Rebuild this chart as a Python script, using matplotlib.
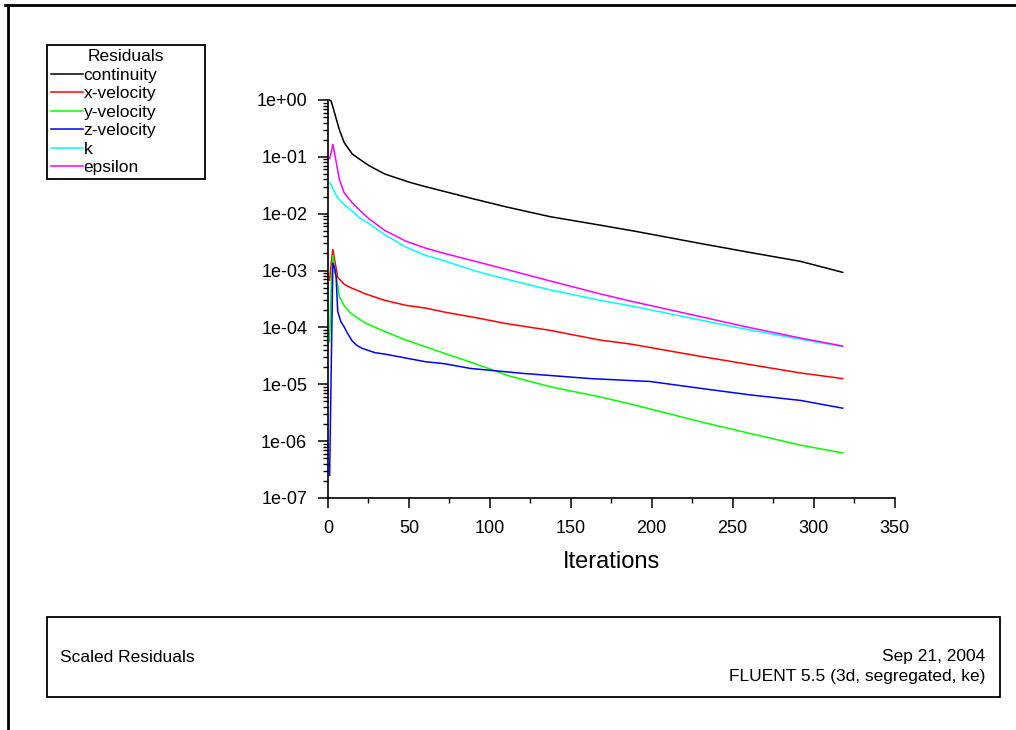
import numpy as np
import matplotlib
matplotlib.use("Agg")
import matplotlib.pyplot as plt
from matplotlib.lines import Line2D
from matplotlib.patches import Rectangle
from matplotlib.ticker import (FixedLocator, LogLocator, MultipleLocator,
                               FuncFormatter, NullFormatter)

plt.rcParams['font.family'] = ['Liberation Sans', 'DejaVu Sans']

# scaled residuals, sampled along each curve (iteration, residual)
it_continuity = [1, 2, 4, 7, 10, 15, 20, 25, 35, 50, 60, 75, 90, 110, 137,
                 168, 190, 230, 260, 292, 318]
res_continuity = [1.0, 0.95, 0.60, 0.30, 0.178, 0.112, 0.089, 0.071, 0.050,
                  0.036, 0.030, 0.0234, 0.0182, 0.0132, 8.9e-3, 6.3e-3,
                  4.9e-3, 3.0e-3, 2.1e-3, 1.45e-3, 9.3e-4]

it_xvel = [1, 2, 3, 4, 5, 6, 8, 10, 14, 18, 23, 35, 48, 60, 72, 90, 110,
           137, 168, 187, 230, 260, 292, 318]
res_xvel = [6.8e-4, 1.35e-3, 2.35e-3, 1.6e-3, 1.12e-3, 7.6e-4, 6.6e-4,
            5.75e-4, 5.0e-4, 4.5e-4, 3.9e-4, 3.0e-4, 2.45e-4, 2.2e-4,
            1.86e-4, 1.51e-4, 1.17e-4, 8.9e-5, 6.0e-5, 5.1e-5, 3.1e-5,
            2.24e-5, 1.58e-5, 1.26e-5]

it_yvel = [1, 2, 3, 4, 5, 6, 7, 10, 14, 17, 23, 35, 48, 60, 72, 90, 112,
           137, 168, 187, 230, 260, 292, 318]
res_yvel = [5.6e-5, 5.0e-4, 1.86e-3, 1.12e-3, 7.9e-4, 5.6e-4, 3.5e-4,
            2.4e-4, 1.78e-4, 1.55e-4, 1.2e-4, 8.5e-5, 6.0e-5, 4.6e-5,
            3.5e-5, 2.35e-5, 1.4e-5, 9.1e-6, 6.0e-6, 4.5e-6, 2.2e-6,
            1.38e-6, 8.5e-7, 6.2e-7]

it_zvel = [1, 2, 3, 4, 5, 6, 8, 10, 12, 15, 18, 21, 29, 35, 48, 60, 72, 88,
           121, 162, 199, 230, 261, 292, 318]
res_zvel = [2.5e-7, 2.0e-5, 1.35e-3, 1.12e-3, 7.8e-4, 1.9e-4, 1.26e-4,
            1.02e-4, 7.9e-5, 5.75e-5, 4.8e-5, 4.3e-5, 3.6e-5, 3.4e-5,
            2.9e-5, 2.5e-5, 2.3e-5, 1.9e-5, 1.55e-5, 1.26e-5, 1.12e-5,
            8.5e-6, 6.5e-6, 5.2e-6, 3.8e-6]

it_k = [1, 2, 4, 6, 10, 15, 20, 25, 35, 48, 60, 72, 90, 110, 137, 168, 187,
        230, 260, 292, 318]
res_k = [3.5e-2, 3.2e-2, 2.4e-2, 1.9e-2, 1.45e-2, 1.1e-2, 8.3e-3, 6.8e-3,
         4.3e-3, 2.6e-3, 1.86e-3, 1.48e-3, 1.0e-3, 7.1e-4, 4.6e-4, 3.0e-4,
         2.4e-4, 1.35e-4, 9.1e-5, 6.2e-5, 4.6e-5]

it_eps = [1, 2, 3, 5, 7, 10, 15, 20, 25, 35, 48, 60, 72, 90, 110, 137, 168,
          187, 230, 260, 292, 318]
res_eps = [9.3e-2, 0.12, 0.166, 0.083, 0.040, 0.0234, 0.0155, 0.0112,
           8.3e-3, 5.1e-3, 3.3e-3, 2.5e-3, 2.0e-3, 1.48e-3, 1.05e-3,
           6.6e-4, 3.9e-4, 2.9e-4, 1.55e-4, 1.0e-4, 6.5e-5, 4.7e-5]

names = ["continuity", "x-velocity", "y-velocity", "z-velocity", "k", "epsilon"]
colors = ["#000000", "#ff0000", "#00ff00", "#0000ff", "#00ffff", "#ff00ff"]
iters = [it_continuity, it_xvel, it_yvel, it_zvel, it_k, it_eps]
resids = [res_continuity, res_xvel, res_yvel, res_zvel, res_k, res_eps]

W, H = 1016, 730
fig = plt.figure(figsize=(W / 100, H / 100), dpi=100)
ax = fig.add_axes([328 / W, 1 - 498 / H, 566.5 / W, 398 / H])

for name, it, res, c in zip(names, iters, resids, colors):
    ax.plot(it, res, color=c, lw=1.1, label=name, clip_on=False)

ax.set_yscale('log')
ax.set_ylim(1e-7, 1)
ax.set_xlim(0, 350)
ax.xaxis.set_major_locator(MultipleLocator(50))
ax.xaxis.set_minor_locator(MultipleLocator(25))
ax.yaxis.set_major_locator(FixedLocator(10.0 ** np.arange(-7, 1)))
ax.yaxis.set_major_formatter(FuncFormatter(lambda v, p: f"{v:.0e}"))
ax.yaxis.set_minor_locator(LogLocator(base=10, subs=np.arange(2, 10)))
ax.yaxis.set_minor_formatter(NullFormatter())

for s in ('top', 'right'):
    ax.spines[s].set_visible(False)
for s in ('left', 'bottom'):
    ax.spines[s].set_linewidth(1.2)
ax.tick_params(which='major', length=7, width=1.1, labelsize=13)
ax.tick_params(which='minor', length=3.5, width=1.0)
ax.tick_params(axis='y', which='major', pad=8)
ax.tick_params(axis='x', which='major', pad=9)
ax.set_xlabel('Iterations', fontsize=17, labelpad=10)

leg = ax.legend(loc='upper left', bbox_to_anchor=(47 / W, 1 - 176 / H, 158 / W, 131 / H),
                bbox_transform=fig.transFigure, mode='expand', borderaxespad=0,
                title='Residuals', fontsize=12.5, title_fontsize=12.5,
                fancybox=False, framealpha=1, edgecolor='black',
                borderpad=0.25, labelspacing=0.19, handlelength=1.85,
                handletextpad=0.0)
leg.get_frame().set_linewidth(1.3)

# caption box under the plot
fig.add_artist(Rectangle((47 / W, 1 - 697 / H), 953 / W, 80 / H,
                         transform=fig.transFigure, fill=False,
                         edgecolor='black', lw=1.3))
fig.text(60 / W, 1 - 657 / H, 'Scaled Residuals', fontsize=12.5, va='center')
fig.text(985 / W, 1 - 657 / H, 'Sep 21, 2004', fontsize=12.5, va='center', ha='right')
fig.text(985 / W, 1 - 677 / H, 'FLUENT 5.5 (3d, segregated, ke)', fontsize=12.5,
         va='center', ha='right')

# window border along the top and left
fig.add_artist(Line2D([5 / W, 1], [1 - 5 / H, 1 - 5 / H], transform=fig.transFigure,
                      color='black', lw=2))
fig.add_artist(Line2D([8 / W, 8 / W], [0, 1 - 5 / H], transform=fig.transFigure,
                      color='black', lw=2))

fig.savefig('out.png', dpi=100)
